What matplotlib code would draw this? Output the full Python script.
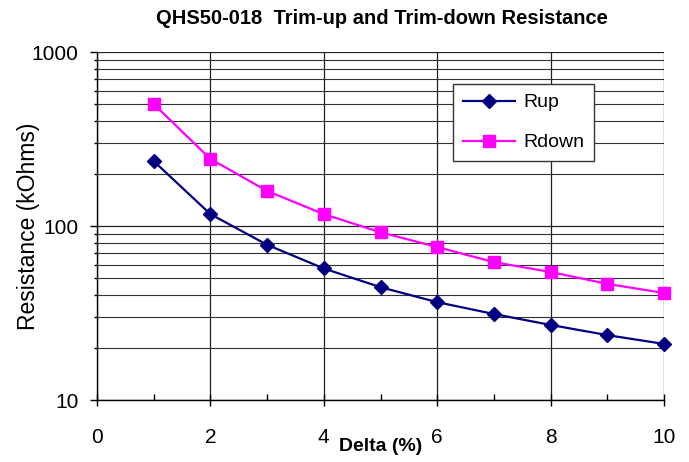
import matplotlib
matplotlib.use("Agg")
import matplotlib.pyplot as plt
from matplotlib.ticker import LogLocator, FixedLocator, NullFormatter

delta = [1, 2, 3, 4, 5, 6, 7, 8, 9, 10]
r_up = [236, 117, 78, 57, 44.5, 36.5, 31.2, 27, 23.6, 21]
r_down = [502, 243, 159, 117, 92, 75.7, 62, 54.4, 46.5, 41.2]
x_ticks = [0, 2, 4, 6, 8, 10]
y_ticks = [10, 100, 1000]

plt.rcParams['font.family'] = ['Liberation Sans', 'DejaVu Sans']

fig = plt.figure(figsize=(6.89, 4.62), dpi=100)
ax = fig.add_axes([97/689, 1-400/462, (664-97)/689, (400-52)/462])

ax.set_yscale('log')
ax.set_xlim(0, 10)
ax.set_ylim(10, 1000)

ax.plot(delta, r_up, color='#000080', lw=1.6, marker='D', markersize=7,
        label='Rup', zorder=3, clip_on=False)
ax.plot(delta, r_down, color='#FF00FF', lw=1.6, marker='s', markersize=9,
        label='Rdown', zorder=3, clip_on=False)

ax.set_xticks(x_ticks)
ax.set_xticklabels([str(t) for t in x_ticks])
ax.xaxis.set_minor_locator(FixedLocator([1, 3, 5, 7, 9]))
ax.yaxis.set_major_locator(FixedLocator(y_ticks))
ax.set_yticklabels([str(t) for t in y_ticks])
ax.yaxis.set_minor_locator(LogLocator(base=10, subs=range(2, 10)))
ax.yaxis.set_minor_formatter(NullFormatter())

ax.grid(True, which='major', axis='both', color='#222222', lw=0.9)
ax.grid(True, which='minor', axis='y', color='#333333', lw=0.8)
ax.set_axisbelow(True)

for s in ['top', 'right']:
    ax.spines[s].set_visible(False)
for s in ['left', 'bottom']:
    ax.spines[s].set_color('black')
    ax.spines[s].set_linewidth(1.0)

ax.tick_params(axis='x', which='major', direction='inout', length=8, width=1,
               labelsize=15, pad=16)
ax.tick_params(axis='x', which='minor', direction='in', length=4, width=1)
ax.tick_params(axis='y', which='major', direction='out', length=5, width=1,
               labelsize=15, pad=8.5)
ax.tick_params(axis='y', which='minor', direction='out', length=2.5, width=1)

ax.set_xlabel('Delta (%)', fontsize=14, fontweight='bold')
ax.xaxis.set_label_coords(0.5, -0.11)
ax.set_ylabel('Resistance (kOhms)', fontsize=16.5)
ax.yaxis.set_label_coords(-0.10, 0.5)

fig.text(382/689, 1-18/462, 'QHS50-018  Trim-up and Trim-down Resistance',
         ha='center', va='center', fontsize=14.5, fontweight='bold')

leg = ax.legend(loc='upper left', bbox_to_anchor=((453-97)/567, 1-(84-52)/348),
                fontsize=14, frameon=True, fancybox=False, edgecolor='#333333',
                framealpha=1, borderpad=0.5, labelspacing=1.15,
                handlelength=2.7, handletextpad=0.4, borderaxespad=0)
leg.get_frame().set_linewidth(1.0)

fig.savefig('out.png', dpi=100)
